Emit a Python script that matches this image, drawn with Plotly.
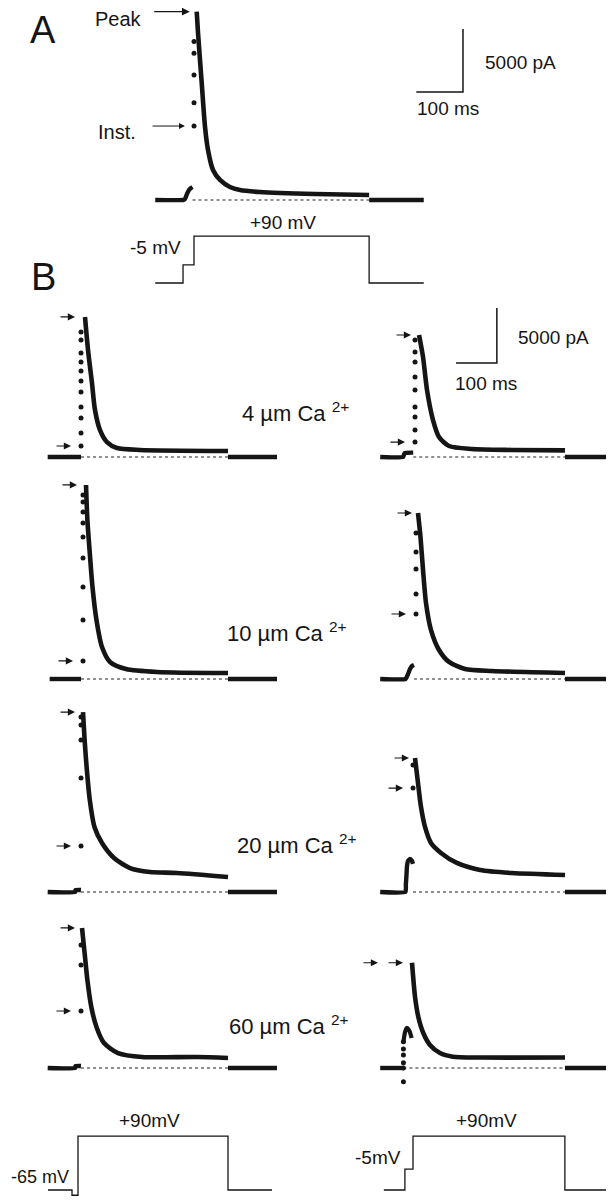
import plotly.graph_objects as go

W, H = 614, 1200
PAGE_PAD = 8  # the page body margin that shifts the whole figure
STEP_MS = 375  # length of the +90 mV step, ms
INK = "#151515"
FONT = "Liberation Sans, Arial, Helvetica, sans-serif"

# ---------------- panel A : time in ms (0 = step to +90 mV), current in pA ----------------
a_pre_t = [-83, -23.5, -19.3, -15, -10.7, -6.4, -3.2]
a_pre_i = [0, 0, 80, 480, 790, 950, 1030]
a_dot_t = [0, 0, 0, 0, 0]
a_dot_i = [12570, 11650, 9920, 7720, 5870]
a_decay_t = [5.8, 8.6, 16.5, 23.6, 30, 40.7, 55.7, 77, 98.5, 141, 259, 375]
a_decay_i = [14950, 13260, 9290, 5800, 3970, 2380, 1590, 1030, 790, 635, 475, 400]
a_post_t = [375, 492]
a_peak, a_inst = 14950, 5870
a_volt_t = [-83, -23.5, -23.5, 0, 0, 375, 375, 492]
a_volt_mv = [-65, -65, -5, -5, 90, 90, -65, -65]

# ---------------- panel B ----------------
ca_labels = ["4 µm Ca", "10 µm Ca", "20 µm Ca", "60 µm Ca"]

# left column, holding -65 mV
l_pre_t = [[-85, 0], [-80, 0], [-85, -15, -14, 0], [-85, -15, -14, 0]]
l_pre_i = [[0, 0], [0, 0], [0, 0, 180, 180], [0, 0, 180, 180]]
l_dot_t = [0, 5.1, 0, 0]
l_dot_i = [
    [11360, 10640, 9450, 8640, 7820, 6910, 5910, 4550, 3550, 2180, 1000],
    [16730, 16090, 15180, 14180, 12910, 11000, 8360, 5360, 1640],
    [15910, 15180, 13820, 10360, 4180],
    [11180, 9360, 5180],
]
l_decay_t = [
    [10.2, 17.9, 28, 35.7, 48.5, 66.3, 91.8, 150, 375],
    [12.8, 16.3, 22.4, 29.3, 39.5, 53.6, 74, 115, 194, 375],
    [5.1, 9.2, 14.3, 22.4, 34.4, 53.6, 84.2, 125, 176, 245, 375],
    [2.6, 9.2, 16.3, 26.3, 39.5, 58.7, 94.4, 156, 296, 375],
]
l_decay_i = [
    [12730, 9730, 6730, 4270, 2450, 1360, 820, 640, 545],
    [17640, 14450, 11450, 8360, 5360, 2910, 1550, 910, 640, 545],
    [16360, 13820, 11360, 8360, 5910, 4450, 3090, 2180, 1820, 1730, 1360],
    [12730, 10450, 8000, 5550, 3730, 2270, 1360, 1000, 1000, 910],
]
l_post_t = [375, 500]
l_peak = [12730, 17640, 16360, 12730]
l_inst = [1000, 1640, 4180, 5180]

# right column, prepulse to -5 mV
r_pre_t = [
    [-78, -22, -18, 0, 3],
    [-78, -16, -9.8, -4.9, 0, 4.9],
    [-78, -16, -15, -13.5, -12.3, -9.8, -4.9, 0, 2.5],
    [-78, -21],
]
r_pre_i = [
    [0, 0, 360, 400, 400],
    [0, 0, 450, 910, 1180, 1270],
    [0, 0, 700, 1550, 2360, 2820, 3000, 2820, 2550],
    [0, 0],
]
r4_hook_t = [-21, -17, -13, -7.4, -0.7]
r4_hook_i = [2390, 3270, 3640, 3450, 2730]
r_dot_t = [7.4, 9.8, 2.5, -21]
r_dot_i = [
    [10640, 9550, 8640, 7270, 6090, 4550, 3640, 2450, 1360],
    [13270, 11550, 10000, 7730, 5910],
    [11550, 9450],
    [-1250, 0, 480, 1180, 1730, 2390],
]
r_decay_t = [
    [17.2, 27, 36.8, 51.5, 66.2, 90.7, 147, 245, 375],
    [14.7, 20.8, 27, 34.3, 46.6, 66.2, 90.7, 130, 196, 375],
    [7.4, 14.7, 22, 31.9, 46.6, 71, 110, 167, 245, 375],
    [0, 7.4, 15.4, 27.7, 44, 68.6, 100, 167, 375],
]
r_decay_i = [
    [11090, 9090, 6090, 3360, 1820, 1000, 730, 640, 600],
    [15090, 12910, 9910, 6910, 4450, 2640, 1550, 910, 730, 545],
    [12180, 9910, 7730, 5910, 4450, 3550, 2640, 2000, 1730, 1550],
    [9570, 6480, 4660, 3180, 2090, 1360, 1030, 950, 950],
]
r_post_t = [375, 480]
r_peak = [11090, 15090, 12180, 9570]
r_inst = [1360, 5910, 9450, 9570]

bl_volt_t = [-75, -15, -15, 0, 0, 375, 375, 485]
bl_volt_mv = [-65, -65, -80, -80, 90, 90, -65, -65]
br_volt_t = [-72, -20, -20, 0, 0, 375, 375, 482]
br_volt_mv = [-65, -65, -5, -5, 90, 90, -65, -65]

scale_ms, scale_pa = 100, 5000

# ---------------- figure ----------------
fig = go.Figure()
n_axes = [0]


def new_axes(t0, base, sx, sy):
    """overlay axes covering the whole page: t0/base = page pixel of time 0 / value 0,
    sx/sy = pixels per unit"""
    n_axes[0] += 1
    n = n_axes[0]
    sfx = "" if n == 1 else str(n)
    t0 -= PAGE_PAD
    base -= PAGE_PAD
    xa = dict(domain=[0, 1], range=[-t0 / sx, (W - t0) / sx], visible=False,
              fixedrange=True, anchor="y" + sfx)
    ya = dict(domain=[0, 1], range=[(base - H) / sy, base / sy], visible=False,
              fixedrange=True, anchor="x" + sfx)
    if n > 1:
        xa["overlaying"] = "x"
        ya["overlaying"] = "y"
    fig.update_layout(**{"xaxis" + sfx: xa, "yaxis" + sfx: ya})
    return "x" + sfx, "y" + sfx


def line(ax, t, v, width=4.6, shape="spline", dash=None, color=INK, smoothing=0.7):
    fig.add_trace(go.Scatter(x=t, y=v, mode="lines", xaxis=ax[0], yaxis=ax[1],
                             line=dict(color=color, width=width, shape=shape,
                                       smoothing=smoothing, dash=dash),
                             hoverinfo="skip", cliponaxis=False))


def dots(ax, t, v, size=5):
    fig.add_trace(go.Scatter(x=t, y=v, mode="markers", xaxis=ax[0], yaxis=ax[1],
                             marker=dict(color=INK, size=size),
                             hoverinfo="skip", cliponaxis=False))


def current(ax, pre_t, pre_i, dot_t, dot_i, dec_t, dec_i, post_t):
    line(ax, [pre_t[-1], STEP_MS], [0, 0], width=1.1, shape="linear", dash="3px,3px",
         color="#222")
    line(ax, pre_t, pre_i, width=4.4, smoothing=0.4)
    dots(ax, dot_t if isinstance(dot_t, list) else [dot_t] * len(dot_i), dot_i)
    line(ax, dec_t, dec_i)
    line(ax, post_t, [0, 0], shape="linear")


def arrow(ax, t, v, gap, length=16, width=1.2):
    fig.add_annotation(x=t, y=v, xref=ax[0], yref=ax[1], text="", showarrow=True,
                       ax=-(gap + length), ay=0, standoff=gap, arrowhead=2,
                       arrowsize=1.2, arrowwidth=width, arrowcolor=INK)


def text(s, cx, cy, size=19, yanchor="middle"):
    y = 1 if cy is None else 1 - (cy - PAGE_PAD) / H
    fig.add_annotation(x=(cx - PAGE_PAD) / W, y=y,
                       xref="paper", yref="paper", text=s, borderpad=0,
                       showarrow=False, xanchor="center", yanchor=yanchor,
                       font=dict(family=FONT, size=size, color=INK))


# panel A current
axA = new_axes(194, 200, 0.467, 63 / 5000)
current(axA, a_pre_t, a_pre_i, a_dot_t, a_dot_i, a_decay_t, a_decay_i, a_post_t)
line(axA, [576 - scale_ms, 576, 576], [8575, 8575, 8575 + scale_pa], width=1.5,
     shape="linear")
arrow(axA, 5.8, a_peak, gap=7, length=37, width=1.3)
arrow(axA, 0, a_inst, gap=9, length=34, width=1)

# panel A voltage
axAv = new_axes(194, 263.3, 0.467, 0.303)
line(axAv, a_volt_t, a_volt_mv, width=1.3, shape="linear")

# panel B currents
bases = [457, 679, 892, 1068]
for k in range(4):
    axL = new_axes(81, bases[k], 0.392, 0.011)
    current(axL, l_pre_t[k], l_pre_i[k], l_dot_t[k], l_dot_i[k],
            l_decay_t[k], l_decay_i[k], l_post_t)
    arrow(axL, l_dot_t[k], l_peak[k], gap=6)
    arrow(axL, l_dot_t[k], l_inst[k], gap=10)

    axR = new_axes(412, bases[k], 0.408, 0.011)
    current(axR, r_pre_t[k], r_pre_i[k], r_dot_t[k], r_dot_i[k],
            r_decay_t[k], r_decay_i[k], r_post_t)
    if k == 3:
        line(axR, r4_hook_t, r4_hook_i, width=4.2)
        arrow(axR, r_decay_t[k][0], r_peak[k], gap=34)
        arrow(axR, r_decay_t[k][0], r_inst[k], gap=9)
    else:
        arrow(axR, r_dot_t[k], r_peak[k], gap=4)
        arrow(axR, r_dot_t[k], r_inst[k], gap=10)
    if k == 0:
        line(axR, [208 - scale_ms, 208, 208], [8545, 8545, 8545 + scale_pa],
             width=1.5, shape="linear")

# panel B voltages
axBl = new_axes(78, 1167.4, 0.4, 0.348)
line(axBl, bl_volt_t, bl_volt_mv, width=1.3, shape="linear")
axBr = new_axes(413, 1167.4, 0.405, 0.348)
line(axBr, br_volt_t, br_volt_mv, width=1.3, shape="linear")

# ---------------- labels ----------------
text("A", 43, None, size=38, yanchor="top")
text("B", 43, 277, size=38)
text("Peak", 118, 19, size=20)
text("Inst.", 117, 132, size=20)
text("5000 pA", 520, 63)
text("100 ms", 448, 108)
text("+90 mV", 283, 222)
text("-5 mV", 155, 248)
text("5000 pA", 553, 337)
text("100 ms", 486, 383)
ca_x = [295, 287, 297, 289]
ca_y = [412, 632, 844, 1025]
for k in range(4):
    text(ca_labels[k] + " <sup>2+</sup>", ca_x[k], ca_y[k], size=22)
text("+90mV", 149, 1120)
text("-65 mV", 40, 1177, size=18)
text("+90mV", 486, 1120)
text("-5mV", 378, 1157)

fig.update_layout(
    width=W, height=H, autosize=False,
    margin=dict(l=0, r=0, t=0, b=0),
    paper_bgcolor="white", plot_bgcolor="rgba(0,0,0,0)",
    showlegend=False, hovermode=False,
)

fig.write_html("out.html", config={"displayModeBar": False})
